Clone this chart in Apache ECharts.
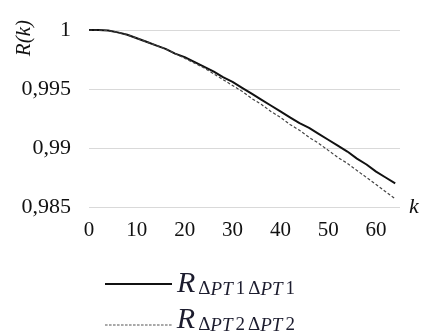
<!DOCTYPE html>
<html>
<head>
<meta charset="utf-8">
<script src="https://cdn.jsdelivr.net/npm/echarts@6/dist/echarts.min.js"></script>
<style>html,body{margin:0;padding:0;background:#fff}#c{width:425px;height:334px}</style>
</head>
<body>
<div id="c"></div>
<script>
var kValues = [0,2,4,6,8,10,12,14,16,18,20,22,24,26,28,30,32,34,36,38,40,42,44,46,48,50,52,54,56,58,60,62,64];
var series1 = [1.0000,1.0000,0.99995,0.9998,0.9996,0.9993,0.9990,0.9987,0.9984,0.9980,0.9977,0.9973,0.9969,0.9965,0.9960,0.9956,0.9951,0.9946,0.9941,0.9936,0.9931,0.9926,0.9921,0.9917,0.9912,0.9907,0.9902,0.9897,0.9891,0.9886,0.9880,0.9875,0.9870];
var series2 = [1.0000,1.0000,0.99995,0.9998,0.9996,0.9993,0.9990,0.9987,0.9984,0.9980,0.9976,0.9972,0.9968,0.9963,0.9958,0.9953,0.9948,0.9942,0.9937,0.9931,0.9926,0.9920,0.9915,0.9909,0.9904,0.9898,0.9892,0.9887,0.9881,0.9875,0.9869,0.9863,0.9857];
var seriesNames = ['R1', 'R2'];
var yTicks = ['0,985','0,99','0,995','1'];

function pairs(ys){ return kValues.map(function(k,i){ return [k, ys[i]]; }); }

var chart = echarts.init(document.getElementById('c'), null, {renderer:'canvas'});
var serif = "'Liberation Serif', 'DejaVu Serif', serif";
var txtColor = '#1c1c2e';
function makeRich(pb){
  var p = [0,0,pb,0];
  return {
    r: {fontFamily: serif, fontStyle: 'italic', fontSize: 30, color: txtColor, verticalAlign: 'bottom', padding:[0,3,pb,0]},
    d: {fontFamily: serif, fontSize: 19, color: txtColor, verticalAlign: 'bottom', padding: p},
    i: {fontFamily: serif, fontStyle: 'italic', fontSize: 19, color: txtColor, verticalAlign: 'bottom', padding: p},
    n: {fontFamily: serif, fontSize: 19, color: txtColor, verticalAlign: 'bottom', padding: [0,3,pb,3]}
  };
}
function fmt(name){
  var n = name === 'R1' ? '1' : '2';
  return '{r|R}{d|Δ}{i|PT}{n|' + n + '}{d|Δ}{i|PT}{n|' + n + '}';
}
var dashPath = 'path://';
for (var j = 0; j < 17; j++) { dashPath += 'M' + (j*4) + ',0h2.6v1h-2.6z'; }

chart.setOption({
  animation: false,
  backgroundColor: '#fff',
  grid: {left: 89, right: 25, top: 30, bottom: 127, containLabel: false},
  xAxis: {
    type: 'value', min: 0, max: 65, interval: 10,
    name: 'k', nameLocation: 'end', nameGap: 9,
    nameTextStyle: {fontFamily: serif, fontStyle: 'italic', fontSize: 22, color: '#111', verticalAlign: 'middle'},
    axisLine: {show: false}, axisTick: {show: false},
    splitLine: {show: false},
    axisLabel: {showMaxLabel: false, margin: 13, fontFamily: serif, fontSize: 21, color: '#111'}
  },
  yAxis: {
    type: 'value', min: 0.985, max: 1, interval: 0.005,
    axisLine: {show: false}, axisTick: {show: false},
    splitLine: {lineStyle: {color: '#d9d9d9', width: 1}},
    axisLabel: {margin: 18, fontFamily: serif, fontSize: 22, color: '#111',
      formatter: function(v){ var i = Math.round((v-0.985)/0.005); return yTicks[i]; }}
  },
  graphic: [{
    type: 'text', left: 14, top: 20, rotation: Math.PI/2,
    style: {text: 'R(k)', fontFamily: serif, fontStyle: 'italic', fontSize: 21, fill: '#111'}
  }],
  legend: [{
    left: 100, top: 264, itemGap: 10, itemWidth: 67, itemHeight: 2,
    data: [{name: seriesNames[0], icon: 'path://M0,0h67v2h-67z', itemStyle: {color: '#111'}}],
    formatter: fmt, textStyle: {rich: makeRich(0)}
  }, {
    left: 100, top: 300, itemGap: 10, itemWidth: 67, itemHeight: 1,
    data: [{name: seriesNames[1], icon: dashPath, itemStyle: {color: '#555'}}],
    formatter: fmt, textStyle: {rich: makeRich(10)}
  }],
  series: [
    {name: 'R1', type: 'line', data: pairs(series1), symbol: 'none', smooth: false,
     lineStyle: {color: '#111', width: 2}, itemStyle: {color: '#111'}},
    {name: 'R2', type: 'line', data: pairs(series2), symbol: 'none', smooth: false,
     lineStyle: {color: '#444', width: 1.2, type: [3,2]}, itemStyle: {color: '#444'}}
  ]
});
</script>
</body>
</html>
